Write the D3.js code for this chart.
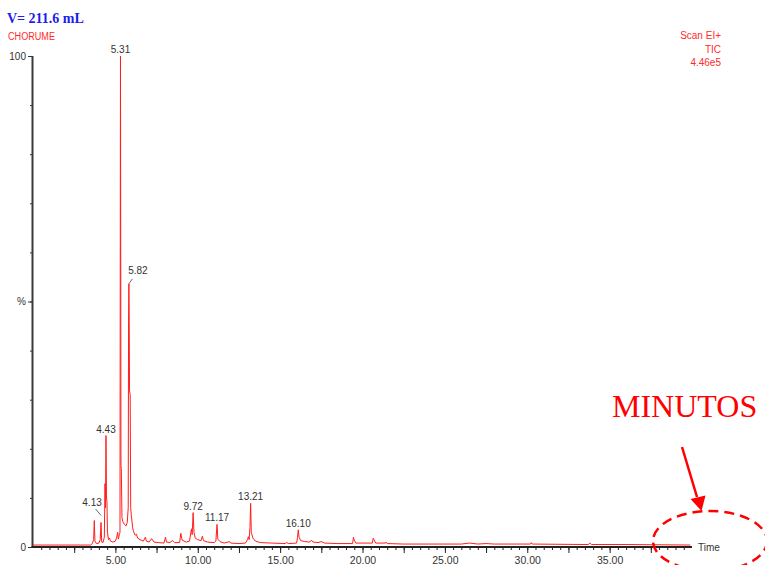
<!DOCTYPE html>
<html>
<head>
<meta charset="utf-8">
<script src="https://cdn.jsdelivr.net/npm/d3@7"></script>
<style>
  body { margin: 0; background: #fff; }
  svg { display: block; }
</style>
</head>
<body>
<script>
// Total ion chromatogram: retention time (min) vs relative abundance (%)
const traceTime = [
  0.00, 3.50, 3.60, 3.68, 3.72, 3.76, 3.85, 4.00, 4.08, 4.13, 4.17, 4.25, 4.33, 4.37, 4.40, 4.43,
  4.46, 4.49, 4.52, 4.58, 4.65, 4.70, 4.85, 5.00, 5.08, 5.14, 5.18, 5.24, 5.28, 5.30, 5.31, 5.32,
  5.34, 5.36, 5.40, 5.45, 5.55, 5.65, 5.72, 5.78, 5.80, 5.82, 5.84, 5.86, 5.90, 5.93, 5.97, 6.05,
  6.10, 6.20, 6.28, 6.35, 6.50, 6.70, 6.82, 6.88, 7.05, 7.20, 7.26, 7.35, 7.60, 7.95, 8.04, 8.10,
  8.30, 8.48, 8.60, 8.90, 8.97, 9.05, 9.30, 9.50, 9.58, 9.62, 9.66, 9.72, 9.77, 9.85, 10.00, 10.20,
  10.28, 10.35, 10.60, 11.00, 11.10, 11.17, 11.22, 11.35, 11.60, 11.94, 12.00, 12.50, 12.90, 13.02,
  13.07, 13.12, 13.17, 13.21, 13.25, 13.35, 13.50, 13.80, 14.50, 15.30, 15.40, 15.50, 16.00, 16.06,
  16.10, 16.15, 16.25, 16.50, 16.80, 16.90, 17.00, 17.30, 17.50, 17.70, 18.50, 19.40, 19.45, 19.50,
  19.60, 20.60, 20.65, 20.70, 20.80, 21.40, 21.43, 21.50, 22.50, 24.00, 26.00, 26.50, 27.00, 27.50,
  28.00, 30.20, 30.25, 30.30, 33.70, 33.80, 33.90, 36.00, 39.90
];
const traceIntensity = [
  0.4, 0.4, 0.7, 1.5, 5.4, 1.2, 0.7, 0.8, 1.5, 5.0, 1.0, 0.9, 2.0, 12.9, 8.0, 22.7,
  10.4, 9.0, 3.0, 1.5, 1.8, 1.2, 1.0, 1.2, 2.0, 3.0, 1.6, 2.5, 3.0, 72.9, 100, 72.9,
  16.6, 16.0, 6.0, 5.2, 4.6, 4.3, 5.0, 8.0, 45.8, 53.6, 45.8, 31.8, 31.0, 8.0, 6.4, 3.9,
  3.2, 2.4, 2.6, 1.8, 1.5, 1.2, 2.0, 1.2, 1.0, 1.7, 1.4, 1.0, 0.9, 0.8, 2.0, 1.0,
  0.9, 1.3, 0.9, 0.9, 2.8, 1.4, 1.0, 1.2, 3.0, 3.7, 2.5, 7.0, 3.0, 1.8, 1.5, 1.3,
  2.2, 1.3, 1.0, 0.9, 1.2, 4.6, 1.6, 1.1, 0.8, 1.1, 0.8, 0.7, 0.8, 1.5,
  2.1, 1.5, 4.0, 8.9, 3.0, 1.8, 1.2, 0.9, 0.8, 0.7, 0.9, 0.7, 0.8, 2.0,
  3.5, 2.0, 1.3, 1.1, 1.0, 1.4, 1.0, 0.9, 1.1, 0.8, 0.7, 0.7, 2.0, 1.4,
  0.8, 0.8, 1.8, 1.5, 0.8, 0.8, 1.0, 0.7, 0.6, 0.6, 0.6, 0.8, 0.6, 0.7,
  0.6, 0.6, 0.9, 0.6, 0.5, 0.8, 0.5, 0.5, 0.4
];

// Annotated peaks (retention time, relative abundance)
const labelTimes  = [4.13, 4.43, 5.31, 5.82, 9.72, 11.17, 13.21, 16.10];
const labelValues = [5.0, 22.7, 100, 53.6, 7.0, 4.6, 8.9, 3.5];

// Axis ticks
const xLabelTicks = [5, 10, 15, 20, 25, 30, 35];
const yLabelTicks = [0, 50, 100];
const yTickText   = ["0", "%", "100"];

const W = 765, H = 565;
const svg = d3.select("body").append("svg").attr("width", W).attr("height", H);

const x = d3.scaleLinear().domain([0, 40]).range([33, 692]);
const y = d3.scaleLinear().domain([0, 100]).range([547, 56]);

const sans = "'Liberation Sans', Arial, sans-serif";
const serif = "'Liberation Serif', 'Times New Roman', serif";

// Header texts
svg.append("text").attr("x", 7).attr("y", 23)
  .attr("font-family", serif).attr("font-weight", "bold").attr("font-size", 14)
  .attr("fill", "#1c1cf0").text("V= 211.6 mL");
svg.append("text").attr("x", 8).attr("y", 39.5)
  .attr("font-family", sans).attr("font-size", 10).attr("fill", "#ff2a2a")
  .attr("textLength", 47).attr("lengthAdjust", "spacingAndGlyphs").text("CHORUME");

const hdr = svg.append("g").attr("font-family", sans).attr("font-size", 10)
  .attr("fill", "#ff2a2a").attr("text-anchor", "end");
hdr.append("text").attr("x", 721).attr("y", 39).text("Scan EI+");
hdr.append("text").attr("x", 721).attr("y", 52.5).text("TIC");
hdr.append("text").attr("x", 721).attr("y", 66).text("4.46e5");

// X axis: minor ticks every 0.5 min, major every 2.5 min, labels every 5 min
const minorAxis = d3.axisBottom(x).tickValues(d3.range(0.5, 40, 0.5)).tickSize(3).tickFormat("");
const majorAxis = d3.axisBottom(x).tickValues(d3.range(2.5, 40, 2.5)).tickSize(6).tickPadding(4)
  .tickFormat(d => xLabelTicks.includes(d) ? d.toFixed(2) : "");

const gxMinor = svg.append("g").attr("transform", `translate(0,${y(0)})`).call(minorAxis);
const gxMajor = svg.append("g").attr("transform", `translate(0,${y(0)})`).call(majorAxis);
[gxMinor, gxMajor].forEach(g => {
  g.select(".domain").remove();
  g.selectAll(".tick line").attr("stroke", "#222").attr("stroke-width", 1);
  g.selectAll(".tick text").attr("font-family", sans).attr("font-size", 10.5).attr("fill", "#333");
});

// Y axis: small ticks every 10 %, labelled at 0, 50 (%) and 100
const yMinor = d3.axisLeft(y).tickValues(d3.range(10, 100, 10)).tickSize(2).tickFormat("");
const yMajor = d3.axisLeft(y).tickValues(yLabelTicks).tickSize(4).tickPadding(2)
  .tickFormat((d, i) => yTickText[i]);
const gyMinor = svg.append("g").attr("transform", `translate(${x(0) - 1},0)`).call(yMinor);
const gyMajor = svg.append("g").attr("transform", `translate(${x(0) - 1},0)`).call(yMajor);
[gyMinor, gyMajor].forEach(g => {
  g.select(".domain").remove();
  g.selectAll(".tick line").attr("stroke", "#333").attr("stroke-width", 1);
  g.selectAll(".tick text").attr("font-family", sans).attr("font-size", 10).attr("fill", "#333");
});

// Axis lines
svg.append("line").attr("x1", x(0) - 0.5).attr("x2", x(0) - 0.5)
  .attr("y1", y(100)).attr("y2", y(0) + 1)
  .attr("stroke", "#3a3a3a").attr("stroke-width", 2);
svg.append("line").attr("x1", x(0) - 1.5).attr("x2", x(40))
  .attr("y1", y(0)).attr("y2", y(0))
  .attr("stroke", "#222").attr("stroke-width", 2);
svg.append("text").attr("x", 698).attr("y", y(0) + 4)
  .attr("font-family", sans).attr("font-size", 10).attr("fill", "#333").text("Time");

// Chromatogram trace
const traceData = traceTime.map((t, i) => [t, traceIntensity[i]]);
svg.append("path").datum(traceData)
  .attr("fill", "none").attr("stroke", "#ff1e1e").attr("stroke-width", 1)
  .attr("stroke-linejoin", "round")
  .attr("d", d3.line().x(d => x(d[0])).y(d => y(d[1])));

// Peak labels; two of them are offset with a short leader line
const nudge = {
  "4.13": { dx: -9, dy: -16, leader: [[-5.5, -13.5], [0, -7]] },
  "5.82": { dx: 9, dy: -10, leader: [[0, 0], [3.5, -5]] }
};
const lab = svg.append("g").attr("font-family", sans).attr("font-size", 10)
  .attr("fill", "#333").attr("text-anchor", "middle");
labelTimes.forEach((t, i) => {
  const txt = t.toFixed(2);
  const px = x(t), py = y(labelValues[i]);
  const n = nudge[txt] || { dx: 0, dy: -3 };
  lab.append("text").attr("x", px + n.dx).attr("y", py + n.dy).text(txt);
  if (n.leader) {
    svg.append("line")
      .attr("x1", px + n.leader[0][0]).attr("y1", py + n.leader[0][1])
      .attr("x2", px + n.leader[1][0]).attr("y2", py + n.leader[1][1])
      .attr("stroke", "#444").attr("stroke-width", 0.8);
  }
});

// "MINUTOS" callout with arrow and dashed ellipse around the time axis end
svg.append("text").attr("x", 612).attr("y", 417)
  .attr("font-family", serif).attr("font-size", 32).attr("fill", "#ff0000").text("MINUTOS");
svg.append("line").attr("x1", 682).attr("y1", 447).attr("x2", 697).attr("y2", 497)
  .attr("stroke", "#ff0000").attr("stroke-width", 2.5);
svg.append("path").attr("d", "M690.5,499 L705.5,495.5 L701.5,511 Z").attr("fill", "#ff0000");
svg.append("ellipse").attr("cx", 710).attr("cy", 541).attr("rx", 57).attr("ry", 30)
  .attr("fill", "none").attr("stroke", "#ff0000").attr("stroke-width", 2.5)
  .attr("stroke-dasharray", "10,6");
</script>
</body>
</html>
